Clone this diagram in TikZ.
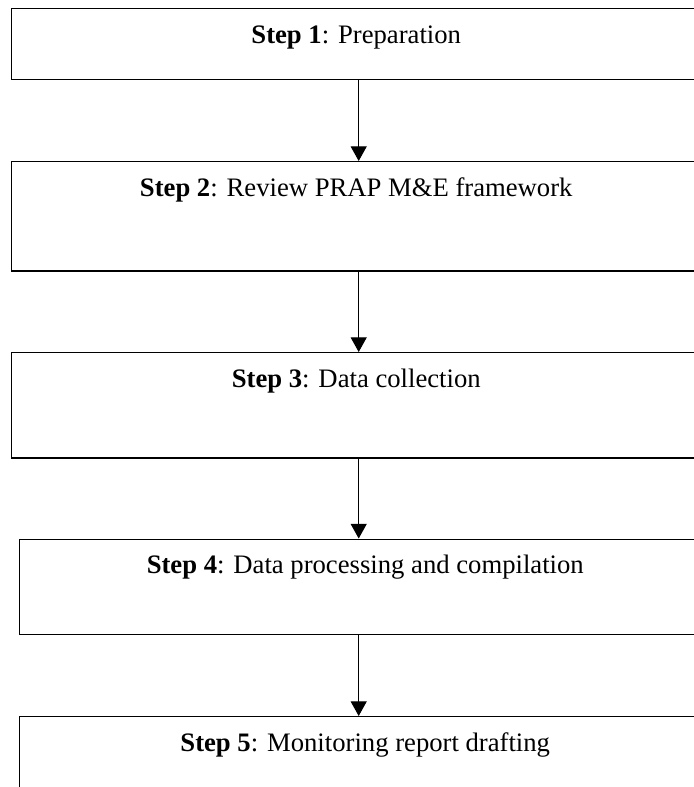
\documentclass[tikz,border=0pt]{standalone}
\usepackage{fontspec}
\setmainfont{Liberation Serif}
\usetikzlibrary{arrows.meta}

\tikzset{
  stepbox/.style={draw, line width=1.1pt, anchor=north west, inner sep=0pt,
    text height=26pt, font=\fontsize{20}{24}\selectfont},
  flow/.style={line width=0.9pt, -{Triangle[width=12pt,length=11pt]}}
}

\begin{document}
\begin{tikzpicture}[x=0.75pt, y=-0.75pt]
\useasboundingbox (0,0) rectangle (693,787);
\node[stepbox, minimum width=690*0.75pt, text depth=27pt] (s1) at (10.5,8)
  {\textbf{Step 1}: Preparation};
\node[stepbox, minimum width=689*0.75pt, text depth=56pt] (s2) at (11,161)
  {\textbf{Step 2}: Review PRAP M\&E framework};
\node[stepbox, minimum width=690*0.75pt, text depth=53pt] (s3) at (10.5,352)
  {\textbf{Step 3}: Data collection};
\node[stepbox, minimum width=691*0.75pt, text depth=45.5pt] (s4) at (19,538.5)
  {\textbf{Step 4}: Data processing and compilation};
\node[stepbox, minimum width=691*0.75pt, text depth=60pt] (s5) at (19,716)
  {\textbf{Step 5}: Monitoring report drafting};
\coordinate (ax) at (358.7,0);
\foreach \a/\b in {s1/s2, s2/s3, s3/s4, s4/s5}
  \draw[flow] (\a.south -| ax) -- (\b.north -| ax);
\end{tikzpicture}
\end{document}
